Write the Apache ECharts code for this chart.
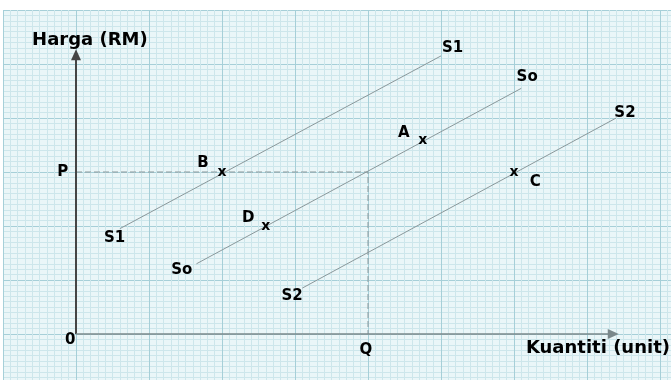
<!DOCTYPE html>
<html lang="ms">
<head>
<meta charset="UTF-8">
<title>Keluk penawaran</title>
<script src="https://cdn.jsdelivr.net/npm/echarts@6.0.0/dist/echarts.min.js"></script>
<style>
  html, body { margin: 0; padding: 0; background: #ffffff; }
  #chart { width: 671px; height: 380px; }
</style>
</head>
<body>
<div id="chart"></div>
<script>
// units: one small square of the graph paper
var curveS1 = [[6, 19.5], [50, 51.5]];
var curveSo = [[16.5, 13], [61, 45.5]];
var curveS2 = [[31, 8.5], [74, 40]];
var guideP = [[0, 30], [40, 30], [40, 0]];
var crossPoints = [[20, 30], [47.5, 35.9], [26, 20], [60, 30]]; // B, A, D, C

var curveLabels = [
  [5.3, 17.8, 'S1'], [51.6, 53, 'S1'],
  [14.5, 11.9, 'So'], [61.8, 47.6, 'So'],
  [29.6, 7.0, 'S2'], [75.2, 40.9, 'S2']
];
var pointLabels = [
  [17.4, 31.7, 'B'], [44.9, 37.2, 'A'], [23.6, 21.5, 'D'], [62.9, 28.1, 'C'],
  [-1.8, 30, 'P'], [-0.8, -1.2, '0'], [39.7, -3, 'Q']
];
var axisTitles = [
  [1.9, 54.4, 'Harga (RM)'], [71.5, -2.6, 'Kuantiti (unit)']
];
var yArrowTop = 51.7;
var xArrowEnd = 73.6;

var textStyle = { color: '#000', fontWeight: 'bold', fontFamily: 'DejaVu Sans', textBorderWidth: 0, opacity: 1 };
var curveStyle = { color: '#8a989b', width: 1 };

function curve(name, pts) {
  return { name: name, type: 'line', data: pts, showSymbol: false, lineStyle: curveStyle, silent: true, z: 3 };
}
function textSeries(rows, size) {
  return {
    type: 'scatter', symbolSize: 0, silent: true, z: 5,
    data: rows.map(function (r) { return { value: [r[0], r[1]], name: r[2] }; }),
    label: Object.assign({ show: true, position: 'inside', formatter: '{b}', fontSize: size }, textStyle)
  };
}

var paperAxis = {
  type: 'value', interval: 10,
  axisLine: { show: false }, axisTick: { show: false }, axisLabel: { show: false },
  splitLine: { show: true, lineStyle: { color: '#a6cfd8', width: 1 } },
  minorTick: { show: false, splitNumber: 10 },
  minorSplitLine: { show: true, lineStyle: { color: '#cde6eb', width: 1 } }
};

echarts.init(document.getElementById('chart')).setOption({
  animation: false,
  grid: {
    left: 3, top: 10, width: 730, height: 378, outerBoundsMode: 'none', containLabel: false,
    show: true, backgroundColor: '#eaf6f8', borderWidth: 0
  },
  xAxis: Object.assign({}, paperAxis, { min: -10, max: 90 }),
  yAxis: Object.assign({}, paperAxis, { min: -10, max: 60 }),
  series: [
    {
      type: 'line', data: [], silent: true, z: 4,
      markLine: {
        silent: true, symbol: ['none', 'triangle'], symbolSize: [10, 11],
        label: { show: false },
        data: [
          [{ coord: [0, 0], lineStyle: { color: '#454545', width: 2, type: 'solid' } }, { coord: [0, yArrowTop] }],
          [{ coord: [0, 0], lineStyle: { color: '#7a888b', width: 1.5, type: 'solid' } }, { coord: [xArrowEnd, 0] }]
        ]
      }
    },
    {
      type: 'line', data: guideP, showSymbol: false, silent: true, z: 3,
      lineStyle: { color: '#8a989b', width: 1, type: [6, 3] }
    },
    curve('S1', curveS1),
    curve('So', curveSo),
    curve('S2', curveS2),
    {
      type: 'scatter', symbolSize: 0, silent: true, z: 6,
      data: crossPoints,
      label: Object.assign({ show: true, position: 'inside', formatter: 'x', fontSize: 14 }, textStyle)
    },
    textSeries(curveLabels, 15),
    textSeries(pointLabels, 15),
    textSeries(axisTitles, 18)
  ]
});
</script>
</body>
</html>
